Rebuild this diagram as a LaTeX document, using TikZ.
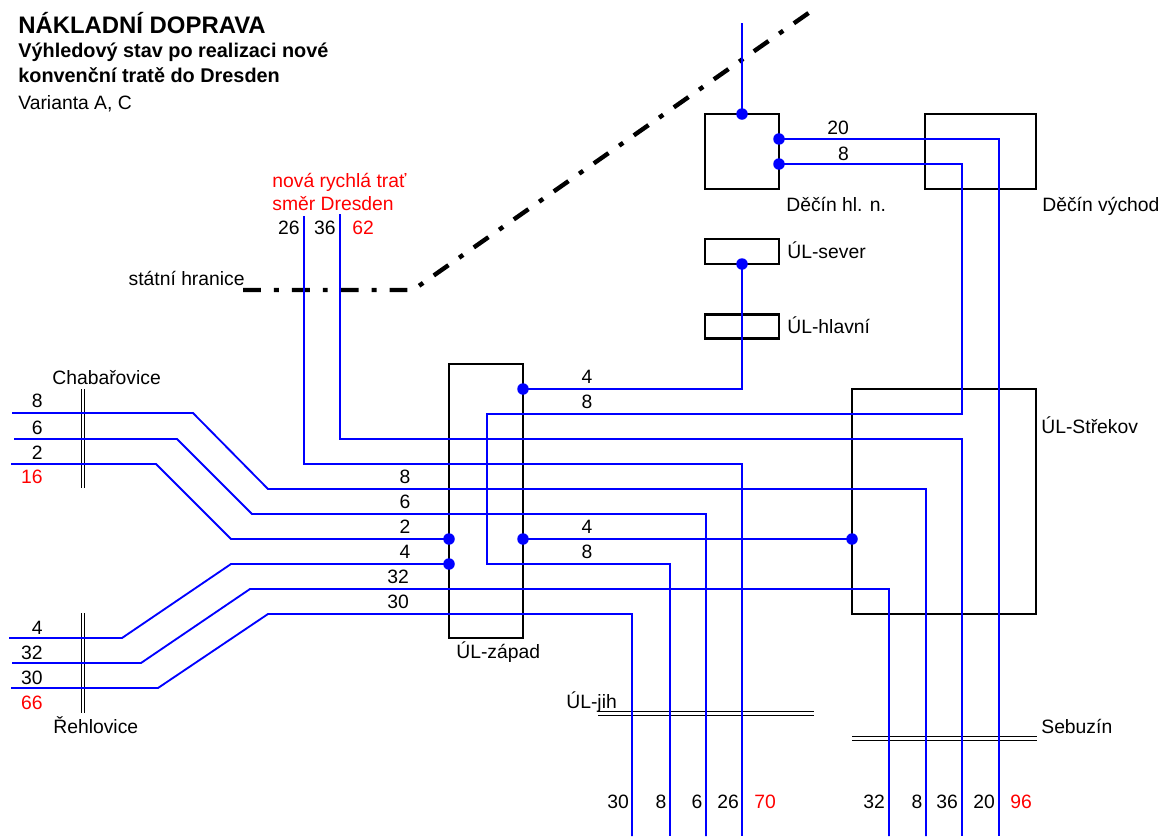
\documentclass[tikz,border=0pt]{standalone}
\usepackage{fontspec}
\setmainfont{Liberation Sans}
\usetikzlibrary{calc}

\begin{document}
\begin{tikzpicture}[
  x=0.02cm, y=-0.02cm,
  font=\fontsize{11pt}{13pt}\selectfont,
  stanice/.style={draw=black, line width=1.6pt, inner sep=0pt, outer sep=0pt},
  trasa/.style={draw=blue, line width=1.05pt},
  trasasilna/.style={draw=blue, line width=1.6pt},
  trasaslaba/.style={draw=blue, line width=0.75pt},
  uzel/.style={circle, fill=blue, inner sep=0pt, minimum size=0.23cm},
  prechod/.style={draw=black, double=white, line width=0.6pt, double distance=1.6pt},
  hranice/.style={draw=black, line width=2.5pt, dash pattern=on 10.2pt off 7.4pt on 2.8pt off 7.4pt},
  popis/.style={inner sep=0pt, anchor=base west},
  cislo/.style={inner sep=0pt},
  objem/.style={inner sep=0pt, text=red}
]
  \useasboundingbox (0,0) rectangle (1163,836);

  \node[popis, font=\fontsize{13.6pt}{16pt}\selectfont\bfseries] (nadpis) at (18,33) {NÁKLADNÍ DOPRAVA};
  \node[popis, font=\fontsize{11.3pt}{13pt}\selectfont\bfseries] (podnadpis1) at (18,57) {Výhledový stav po realizaci nové};
  \node[popis, font=\fontsize{11.3pt}{13pt}\selectfont\bfseries] (podnadpis2) at (18,82) {konvenční tratě do Dresden};
  \node[popis] (varianta) at (18,109) {Varianta A, C};

  % statni hranice
  \coordinate (hr1) at (243,290);
  \coordinate (hr2) at (413,290);
  \coordinate (hr3) at (810,12);
  \draw[hranice] (hr1) -- (hr2) -- (hr3);
  \node[popis, anchor=base east] (hranicetext) at (245,285) {státní hranice};

  % stanice
  \node[stanice, minimum width=1.48cm, minimum height=1.5cm] (decinhl) at (742,151.5) {};
  \node[stanice, minimum width=2.22cm, minimum height=1.5cm] (decinvy) at (980.5,151.5) {};
  \node[stanice, minimum width=1.48cm, minimum height=0.5cm] (ulsever) at (742,251.5) {};
  \node[stanice, minimum width=1.48cm, minimum height=0.47cm] (ulhlavni) at (742,326.5) {};
  \node[stanice, minimum width=1.48cm, minimum height=5.48cm] (ulzapad) at (486,501) {};
  \node[stanice, minimum width=3.68cm, minimum height=4.5cm] (ulstrekov) at (944,501.5) {};

  \node[popis] (decinhltext) at (786,211) {Děčín hl. n.};
  \node[popis] (decinvytext) at (1042,211) {Děčín východ};
  \node[popis] (ulsevertext) at (787,258) {ÚL-sever};
  \node[popis] (ulhlavnitext) at (787,333) {ÚL-hlavní};
  \node[popis] (ulzapadtext) at (456,658) {ÚL-západ};
  \node[popis] (ulstrekovtext) at (1041,433) {ÚL-Střekov};
  \node[popis] (uljihtext) at (566,708) {ÚL-jih};
  \node[popis] (sebuzintext) at (1041,733) {Sebuzín};
  \node[popis] (chabtext) at (52,384) {Chabařovice};
  \node[popis] (rehtext) at (53,733) {Řehlovice};
  \node[popis, text=red] (nrt1) at (272,187) {nová rychlá trať};
  \node[popis, text=red] (nrt2) at (272,210) {směr Dresden};

  % hranicni prechody
  \draw[prechod] (83,389) -- (83,488);
  \draw[prechod] (83,613) -- (83,713);
  \draw[prechod] (598,713.5) -- (814,713.5);
  \draw[prechod] (852,738.5) -- (1037,738.5);

  % konce tras
  \coordinate (dd) at (742,23);
  \coordinate (ns26) at (304,216);
  \coordinate (ns36) at (340,214);
  \coordinate (chab8) at (12,413);
  \coordinate (chab6) at (14,439);
  \coordinate (chab2) at (11,464);
  \coordinate (reh4) at (9,638);
  \coordinate (reh32) at (12,663);
  \coordinate (reh30) at (11,688);
  \coordinate (jih30) at (632,836);
  \coordinate (jih8) at (670,836);
  \coordinate (jih6) at (706,836);
  \coordinate (jih26) at (742,836);
  \coordinate (seb32) at (889,836);
  \coordinate (seb8) at (926,836);
  \coordinate (seb36) at (962,836);
  \coordinate (seb20) at (999,836);

  \coordinate (hlS) at (decinhl.north);
  \coordinate (hl20) at ($(decinhl.north east)!0.333!(decinhl.south east)$);
  \coordinate (hl8) at ($(decinhl.north east)!0.667!(decinhl.south east)$);
  \coordinate (sv) at (ulsever.south);
  \coordinate (zE4) at (ulzapad.east |- 0,389);
  \coordinate (zE4b) at (ulzapad.east |- 0,539);
  \coordinate (zW2) at (ulzapad.west |- 0,539);
  \coordinate (zW4) at (ulzapad.west |- 0,564);
  \coordinate (st4) at (ulstrekov.west |- 0,539);

  % trasy
  \draw[trasasilna] (ns26) |- (742,464) -- (jih26);
  \draw[trasasilna] (ns36) |- (962,439) -- (seb36);
  \draw[trasa] (dd) -- (hlS);
  \draw[trasaslaba] (hl20) -| (seb20);
  \draw[trasaslaba] (hl8) -| (962,414) -| (487,564) -| (jih8);
  \draw[trasa] (sv) |- (zE4);
  \draw[trasa] (chab8) -- (193,413) -- (268,489) -| (seb8);
  \draw[trasa] (chab6) -- (177,439) -- (252,514) -| (jih6);
  \draw[trasa] (chab2) -- (156,464) -- (231,539) -- (zW2);
  \draw[trasa] (zE4b) -- (st4);
  \draw[trasa] (reh4) -- (122,638) -- (231,564) -- (zW4);
  \draw[trasa] (reh32) -- (141,663) -- (250,589) -| (seb32);
  \draw[trasa] (reh30) -- (158,688) -- (268,614) -| (jih30);

  \foreach \u in {hlS,hl20,hl8,sv,zE4,zE4b,zW2,zW4,st4}
    \node[uzel] (u\u) at (\u) {};

  % objemy
  \node[cislo, anchor=east] (c26) at (300,228) {26};
  \node[cislo, anchor=east] (c36) at (336,228) {36};
  \node[objem, anchor=west] (c62) at (352,228) {62};
  \node[cislo] (c20) at (838,128) {20};
  \node[cislo] (c8hl) at (843.5,154) {8};
  \foreach \y/\t [count=\i] in {401/8,428/6,453/2}
    \node[cislo, anchor=east] (chabc\i) at (43,\y) {\t};
  \node[objem, anchor=east] (chabsum) at (43,477) {16};
  \foreach \y/\t [count=\i] in {628/4,653/32,678/30}
    \node[cislo, anchor=east] (rehc\i) at (43,\y) {\t};
  \node[objem, anchor=east] (rehsum) at (43,703) {66};
  \foreach \x/\y/\t [count=\i] in {587/377/4,587/402/8,587/527/4,587/552/8,
      405/477/8,405/502/6,405/527/2,405/552/4,398/577/32,398/602/30}
    \node[cislo] (zapc\i) at (\x,\y) {\t};
  \foreach \x/\t [count=\i] in {618/30,661/8,697/6,728/26}
    \node[cislo] (jihc\i) at (\x,802) {\t};
  \node[objem] (jihsum) at (765,802) {70};
  \foreach \x/\t [count=\i] in {874/32,917/8,947/36,984/20}
    \node[cislo] (sebc\i) at (\x,802) {\t};
  \node[objem] (sebsum) at (1021,802) {96};
\end{tikzpicture}
\end{document}
